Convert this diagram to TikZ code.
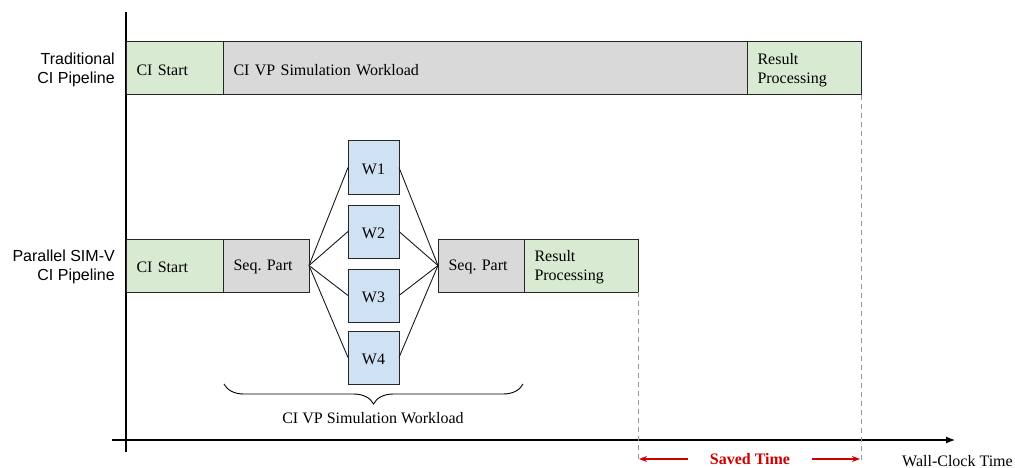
\documentclass[tikz,border=0pt]{standalone}
\usepackage{fontspec}
\setmainfont{Liberation Serif}
\newfontfamily\lsans{Liberation Sans}
\usetikzlibrary{arrows.meta,decorations.pathreplacing}
\definecolor{stagegreen}{HTML}{D9EAD3}
\definecolor{stagegray}{HTML}{D9D9D9}
\definecolor{stageblue}{HTML}{CFE2F3}
\definecolor{savedred}{HTML}{CC0000}
\definecolor{guidegray}{HTML}{999999}
\frenchspacing
\begin{document}
\begin{tikzpicture}[x=1pt,y=-1pt,
  font=\fontsize{16}{19}\selectfont,
  stage/.style={draw=black!85, line width=1pt, anchor=north west, outer sep=0pt,
    minimum height=53pt, inner xsep=10.5pt, inner ysep=0pt, align=left,
    execute at begin node={\rule{0pt}{13.5pt}}},
  wbox/.style={draw=black!85, line width=1pt, fill=stageblue, anchor=north west,
    outer sep=0pt, minimum width=51pt, minimum height=53pt, inner sep=0pt,
    text height=14pt, text depth=0pt},
  link/.style={line width=0.9pt, black!90},
  sidelabel/.style={anchor=east, align=right, inner sep=0pt,
    font=\lsans\fontsize{16}{19}\selectfont},
  axis/.style={line width=1.2pt, black},
  guide/.style={guidegray, line width=0.9pt, dash pattern=on 5pt off 4pt},
  savedarrow/.style={savedred, line width=1.5pt, -{Stealth[length=8pt,width=6pt]}}
]
\useasboundingbox (0,0) rectangle (1015,468);

% axes
\coordinate (ytop) at (126,12);
\coordinate (ybot) at (126,452);
\coordinate (xl) at (112,440);
\coordinate (xr) at (955,440);
\draw[axis] (ybot) -- (ytop);
\draw[axis, -{Latex[length=9pt,width=7pt]}] (xl) -- (xr);

% row labels
\node[sidelabel] (lt) at (115,70) {Traditional\\CI Pipeline};
\node[sidelabel] (lp) at (115,267) {Parallel SIM-V\\CI Pipeline};

% traditional pipeline
\node[stage, fill=stagegreen, text width=76pt] (t1) at (126,42) {CI Start};
\node[stage, fill=stagegray, text width=503pt] (t2) at (223,42) {CI VP Simulation Workload};
\node[stage, fill=stagegreen, text width=93pt] (t3) at (747,42) {Result\\Processing};

% parallel pipeline
\node[stage, fill=stagegreen, text width=76pt] (b1) at (126,239) {CI Start};
\node[stage, fill=stagegray, text width=65pt] (b2) at (223,239) {Seq. Part};
\node[wbox] (w1) at (348,141) {W1};
\node[wbox] (w2) at (348,205) {W2};
\node[wbox] (w3) at (348,269) {W3};
\node[wbox] (w4) at (348,331) {W4};
\node[stage, fill=stagegray, text width=65pt] (b3) at (438,239) {Seq. Part};
\node[stage, fill=stagegreen, text width=93pt] (b4) at (524,239) {Result\\Processing};

\foreach \w in {w1,w2,w3,w4}{
  \draw[link] (b2.east) -- (\w.west);
  \draw[link] (\w.east) -- (b3.west);
}

% brace under the parallel workload
\coordinate (bl) at (224,384);
\coordinate (br) at (523,384);
\draw[line width=0.9pt, decorate, decoration={brace, mirror, amplitude=20pt, aspect=0.5}] (bl) -- (br);
\node[anchor=north] (bracelabel) at (373,409) {CI VP Simulation Workload};

% guides and saved time
\coordinate (g1) at (638,462);
\coordinate (g2) at (861,462);
\draw[guide] (b4.south east) -- (g1);
\draw[guide] (t3.south east) -- (g2);

\node[inner sep=0pt, text=savedred, font=\bfseries\fontsize{16}{19}\selectfont] (saved) at (750,459) {Saved Time};
\coordinate (sl) at (639,459);
\coordinate (sr) at (860,459);
\draw[savedarrow] ([xshift=-22pt]saved.west) -- (sl);
\draw[savedarrow] ([xshift=22pt]saved.east) -- (sr);

\node[anchor=base west, inner sep=0pt] (wct) at (902,466.5) {Wall-Clock Time};
\end{tikzpicture}
\end{document}
